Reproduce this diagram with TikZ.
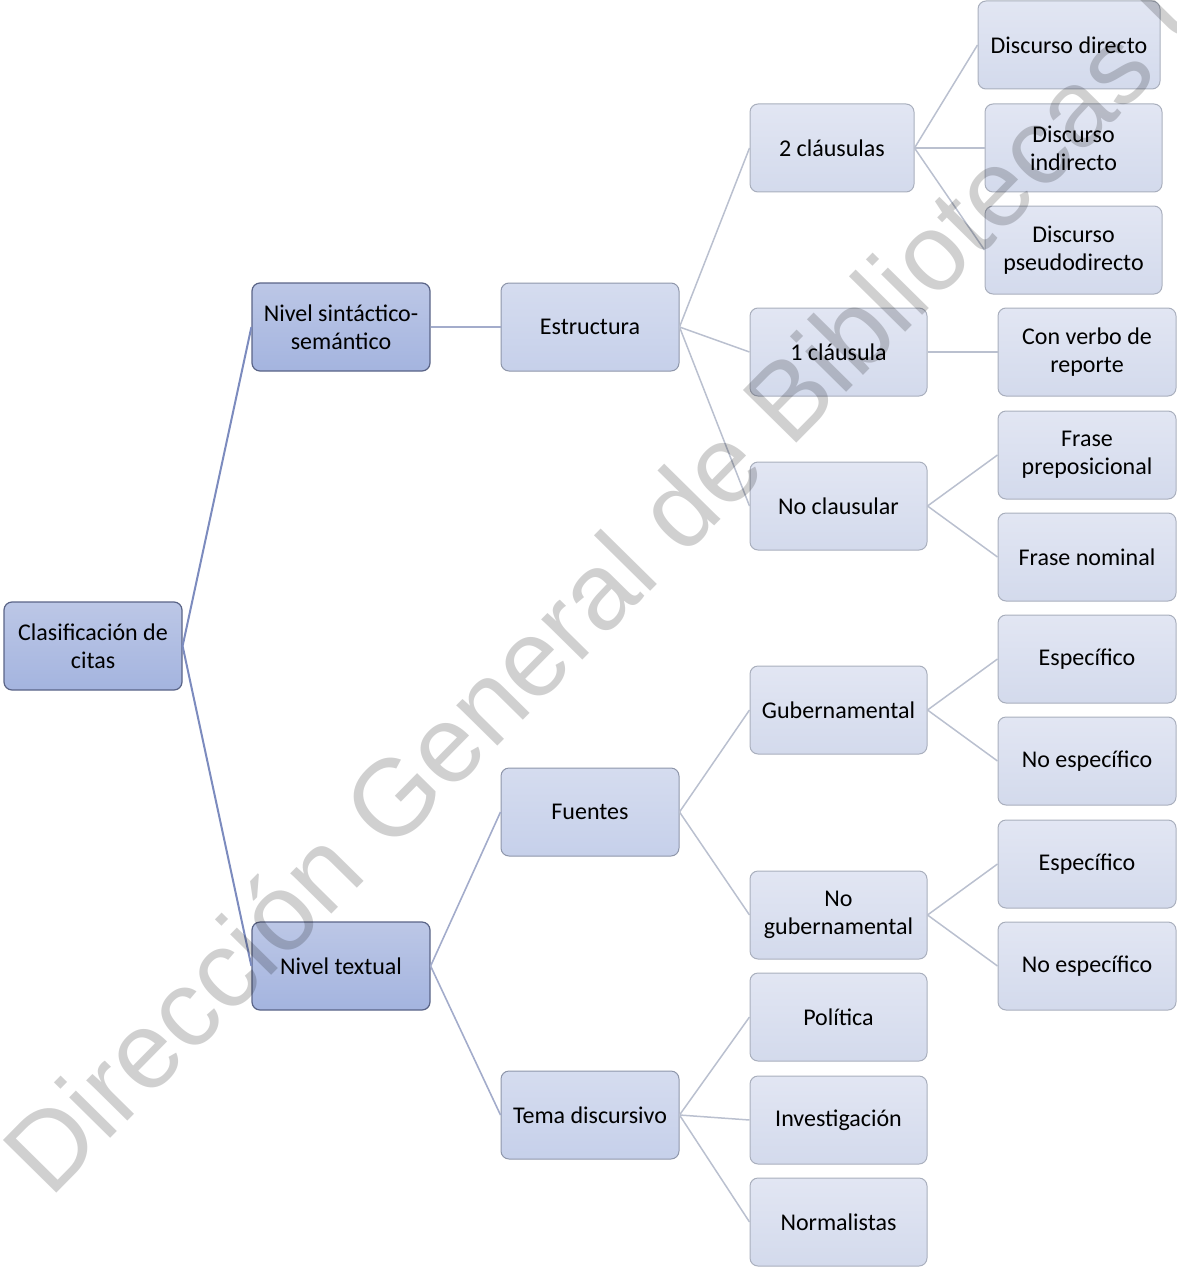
\documentclass[tikz,border=0pt]{standalone}
\usepackage{fontspec}
\setmainfont{Carlito}
\newfontfamily\wmfont{Liberation Sans}
\definecolor{bdA}{HTML}{5A6487}
\definecolor{topA}{HTML}{BCC7E6}
\definecolor{botA}{HTML}{A4B4DF}
\definecolor{bdB}{HTML}{8E96AA}
\definecolor{topB}{HTML}{D5DCEF}
\definecolor{botB}{HTML}{C6D0EA}
\definecolor{bdC}{HTML}{A9AFBD}
\definecolor{topC}{HTML}{E2E6F3}
\definecolor{botC}{HTML}{D3DAEC}
\definecolor{lnA}{HTML}{7C8BBE}
\definecolor{lnB}{HTML}{A3ACCB}
\definecolor{lnC}{HTML}{BAC0CF}
\definecolor{wm}{HTML}{D0D0D0}
\tikzset{
  box/.style={rounded corners=8pt, align=center, inner sep=2pt,
    minimum width=178, minimum height=88,
    font=\fontsize{24}{28}\selectfont, text=black},
  lvA/.style={box, draw=bdA, line width=1.2pt, top color=topA, bottom color=botA},
  lvB/.style={box, draw=bdB, line width=1pt, top color=topB, bottom color=botB},
  lvC/.style={box, draw=bdC, line width=1pt, top color=topC, bottom color=botC},
  cA/.style={draw=lnA, line width=2pt},
  cB/.style={draw=lnB, line width=1.6pt},
  cC/.style={draw=lnC, line width=1.5pt},
}
\begin{document}
\begin{tikzpicture}[x=1pt,y=-1pt]
\useasboundingbox (0,0) rectangle (1177,1268);
% level 1
\node[lvA] (root) at (93,646) {Clasificación de\\citas};
% level 2
\node[lvA] (sint) at (341,327) {Nivel sintáctico-\\semántico};
\node[lvA] (text) at (341,966) {Nivel textual};
% level 3
\node[lvB] (estr) at (590,327) {Estructura};
\node[lvB] (fuen) at (590,812) {Fuentes};
\node[lvB] (tema) at (590,1115) {Tema discursivo};
% level 4
\node[lvC, minimum width=164] (dos) at (832,148) {2 cláusulas};
\node[lvC, minimum width=177] (uno) at (838.5,352) {1 cláusula};
\node[lvC, minimum width=177] (nocl) at (838.5,506) {No clausular};
\node[lvC, minimum width=177] (gub) at (838.5,710) {Gubernamental};
\node[lvC, minimum width=177] (nogub) at (838.5,915) {No\\gubernamental};
\node[lvC, minimum width=177] (pol) at (838.5,1017) {Política};
\node[lvC, minimum width=177] (inv) at (838.5,1120) {Investigación};
\node[lvC, minimum width=177] (norm) at (838.5,1222) {Normalistas};
% level 5
\node[lvC, minimum width=182] (dd) at (1069,45) {Discurso directo};
\node[lvC, minimum width=177] (di) at (1073.5,148) {Discurso\\indirecto};
\node[lvC, minimum width=177] (dp) at (1073.5,250) {Discurso\\pseudodirecto};
\node[lvC] (cv) at (1087,352) {Con verbo de\\reporte};
\node[lvC] (fp) at (1087,455) {Frase\\preposicional};
\node[lvC] (fn) at (1087,557) {Frase nominal};
\node[lvC] (e1) at (1087,659) {Específico};
\node[lvC] (ne1) at (1087,761) {No específico};
\node[lvC] (e2) at (1087,864) {Específico};
\node[lvC] (ne2) at (1087,966) {No específico};
% connectors
\draw[cA] (root.east) -- (sint.west);
\draw[cA] (root.east) -- (text.west);
\draw[cB] (sint.east) -- (estr.west);
\draw[cB] (text.east) -- (fuen.west);
\draw[cB] (text.east) -- (tema.west);
\draw[cC] (estr.east) -- (dos.west);
\draw[cC] (estr.east) -- (uno.west);
\draw[cC] (estr.east) -- (nocl.west);
\draw[cC] (fuen.east) -- (gub.west);
\draw[cC] (fuen.east) -- (nogub.west);
\draw[cC] (tema.east) -- (pol.west);
\draw[cC] (tema.east) -- (inv.west);
\draw[cC] (tema.east) -- (norm.west);
\draw[cC] (dos.east) -- (dd.west);
\draw[cC] (dos.east) -- (di.west);
\draw[cC] (dos.east) -- (dp.west);
\draw[cC] (uno.east) -- (cv.west);
\draw[cC] (nocl.east) -- (fp.west);
\draw[cC] (nocl.east) -- (fn.west);
\draw[cC] (gub.east) -- (e1.west);
\draw[cC] (gub.east) -- (ne1.west);
\draw[cC] (nogub.east) -- (e2.west);
\draw[cC] (nogub.east) -- (ne2.west);
% watermark
\begin{scope}
\clip (0,0) rectangle (1177,1268);
\node[anchor=base west, inner sep=0pt, rotate=45.4, text=wm, blend mode=multiply,
      font=\wmfont\fontsize{109}{109}\selectfont] (wmk) at (50,1200)
      {Dirección General de Bibliotecas UAQ};
\end{scope}
\end{tikzpicture}
\end{document}
